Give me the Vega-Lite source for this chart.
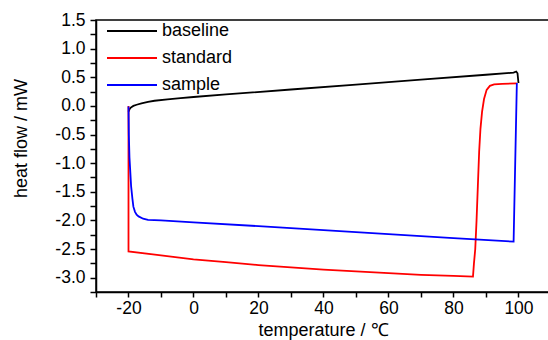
{
  "$schema": "https://vega.github.io/schema/vega-lite/v6.json",
  "width": 454,
  "height": 272,
  "autosize": {"type": "none"},
  "padding": {"left": 96, "top": 20, "right": 0, "bottom": 48},
  "background": "white",
  "config": {
    "font": "Liberation Sans",
    "view": {"stroke": "#000000", "strokeWidth": 1.5},
    "axis": {
      "grid": false,
      "domainColor": "#000000",
      "domainWidth": 1.5,
      "tickColor": "#000000",
      "tickWidth": 1.5,
      "labelColor": "#000000",
      "titleColor": "#000000",
      "labelFont": "Liberation Sans",
      "titleFont": "Liberation Sans",
      "labelFontSize": 17.5,
      "titleFontSize": 18,
      "titleFontWeight": "normal"
    }
  },
  "data": {
    "values": [
      {"s": "baseline", "i": 0, "t": -20, "h": -0.10},
      {"s": "baseline", "i": 1, "t": -19.7, "h": -0.06},
      {"s": "baseline", "i": 2, "t": -19.3, "h": -0.03},
      {"s": "baseline", "i": 3, "t": -18.5, "h": 0.0},
      {"s": "baseline", "i": 4, "t": -17.5, "h": 0.02},
      {"s": "baseline", "i": 5, "t": -16, "h": 0.045},
      {"s": "baseline", "i": 6, "t": -14, "h": 0.07},
      {"s": "baseline", "i": 7, "t": -12, "h": 0.09},
      {"s": "baseline", "i": 8, "t": -8, "h": 0.115},
      {"s": "baseline", "i": 9, "t": -4, "h": 0.135},
      {"s": "baseline", "i": 10, "t": 0, "h": 0.155},
      {"s": "baseline", "i": 11, "t": 10, "h": 0.20},
      {"s": "baseline", "i": 12, "t": 30, "h": 0.286},
      {"s": "baseline", "i": 13, "t": 50, "h": 0.372},
      {"s": "baseline", "i": 14, "t": 70, "h": 0.458},
      {"s": "baseline", "i": 15, "t": 90, "h": 0.544},
      {"s": "baseline", "i": 16, "t": 98.5, "h": 0.58},
      {"s": "baseline", "i": 17, "t": 99.3, "h": 0.60},
      {"s": "baseline", "i": 18, "t": 99.7, "h": 0.57},
      {"s": "baseline", "i": 19, "t": 100, "h": 0.40},

      {"s": "standard", "i": 0, "t": -20, "h": 0.0},
      {"s": "standard", "i": 1, "t": -20, "h": -2.54},
      {"s": "standard", "i": 2, "t": -10, "h": -2.61},
      {"s": "standard", "i": 3, "t": 0, "h": -2.68},
      {"s": "standard", "i": 4, "t": 10, "h": -2.73},
      {"s": "standard", "i": 5, "t": 20, "h": -2.78},
      {"s": "standard", "i": 6, "t": 30, "h": -2.82},
      {"s": "standard", "i": 7, "t": 40, "h": -2.86},
      {"s": "standard", "i": 8, "t": 50, "h": -2.89},
      {"s": "standard", "i": 9, "t": 60, "h": -2.92},
      {"s": "standard", "i": 10, "t": 70, "h": -2.95},
      {"s": "standard", "i": 11, "t": 80, "h": -2.97},
      {"s": "standard", "i": 12, "t": 86, "h": -2.98},
      {"s": "standard", "i": 13, "t": 86.3, "h": -2.75},
      {"s": "standard", "i": 14, "t": 86.7, "h": -2.5},
      {"s": "standard", "i": 15, "t": 87.1, "h": -2.0},
      {"s": "standard", "i": 16, "t": 87.5, "h": -1.4},
      {"s": "standard", "i": 17, "t": 87.9, "h": -0.8},
      {"s": "standard", "i": 18, "t": 88.3, "h": -0.4},
      {"s": "standard", "i": 19, "t": 88.8, "h": -0.1},
      {"s": "standard", "i": 20, "t": 89.4, "h": 0.12},
      {"s": "standard", "i": 21, "t": 90.2, "h": 0.28},
      {"s": "standard", "i": 22, "t": 91.2, "h": 0.35},
      {"s": "standard", "i": 23, "t": 92.5, "h": 0.375},
      {"s": "standard", "i": 24, "t": 95, "h": 0.385},
      {"s": "standard", "i": 25, "t": 99.5, "h": 0.395},

      {"s": "sample", "i": 0, "t": -20, "h": -0.01},
      {"s": "sample", "i": 1, "t": -19.9, "h": -0.5},
      {"s": "sample", "i": 2, "t": -19.7, "h": -0.9},
      {"s": "sample", "i": 3, "t": -19.5, "h": -1.1},
      {"s": "sample", "i": 4, "t": -19.2, "h": -1.4},
      {"s": "sample", "i": 5, "t": -18.8, "h": -1.62},
      {"s": "sample", "i": 6, "t": -18.5, "h": -1.76},
      {"s": "sample", "i": 7, "t": -18, "h": -1.85},
      {"s": "sample", "i": 8, "t": -17.5, "h": -1.9},
      {"s": "sample", "i": 9, "t": -16.9, "h": -1.93},
      {"s": "sample", "i": 10, "t": -15.5, "h": -1.97},
      {"s": "sample", "i": 11, "t": -14, "h": -1.99},
      {"s": "sample", "i": 12, "t": -10, "h": -2.0},
      {"s": "sample", "i": 13, "t": 0, "h": -2.034},
      {"s": "sample", "i": 14, "t": 20, "h": -2.10},
      {"s": "sample", "i": 15, "t": 40, "h": -2.17},
      {"s": "sample", "i": 16, "t": 60, "h": -2.24},
      {"s": "sample", "i": 17, "t": 80, "h": -2.31},
      {"s": "sample", "i": 18, "t": 98.5, "h": -2.37},
      {"s": "sample", "i": 19, "t": 99.5, "h": 0.40}
    ]
  },
  "mark": {"type": "line", "strokeWidth": 1.8, "clip": true},
  "encoding": {
    "x": {
      "field": "t",
      "type": "quantitative",
      "scale": {"domain": [-30, 109.7], "nice": false, "zero": false},
      "axis": {
        "title": "temperature / ℃",
        "values": [-30, -20, -10, 0, 10, 20, 30, 40, 50, 60, 70, 80, 90, 100],
        "labelExpr": "datum.value % 20 == 0 ? replace(format(datum.value, 'd'), '\u2212', '-') : ''",
        "tickSize": 5,
        "labelPadding": 2,
        "titlePadding": 5
      }
    },
    "y": {
      "field": "h",
      "type": "quantitative",
      "scale": {"domain": [-3.25, 1.5], "nice": false, "zero": false},
      "axis": {
        "title": "heat flow / mW",
        "values": [-3.25, -3.0, -2.75, -2.5, -2.25, -2.0, -1.75, -1.5, -1.25, -1.0, -0.75, -0.5, -0.25, 0, 0.25, 0.5, 0.75, 1.0, 1.25, 1.5],
        "labelExpr": "abs(datum.value * 2 - round(datum.value * 2)) < 0.001 ? replace(format(datum.value, '.1f'), '\u2212', '-') : ''",
        "tickSize": 6,
        "labelPadding": 5,
        "titleX": -70,
        "titleY": 118,
        "titleAngle": -90,
        "titleAlign": "center",
        "titleBaseline": "alphabetic"
      }
    },
    "color": {
      "field": "s",
      "type": "nominal",
      "scale": {"domain": ["baseline", "standard", "sample"], "range": ["#000000", "#ff0000", "#0000ff"]},
      "legend": {
        "title": null,
        "orient": "none",
        "legendX": 7,
        "legendY": 2,
        "padding": 0,
        "symbolType": "M-1,0H9",
        "symbolSize": 100,
        "symbolStrokeWidth": 1.8,
        "labelOffset": 41,
        "labelFontSize": 18,
        "labelFont": "Liberation Sans",
        "labelColor": "#000000",
        "rowPadding": 9
      }
    },
    "order": {"field": "i", "type": "quantitative"}
  }
}
